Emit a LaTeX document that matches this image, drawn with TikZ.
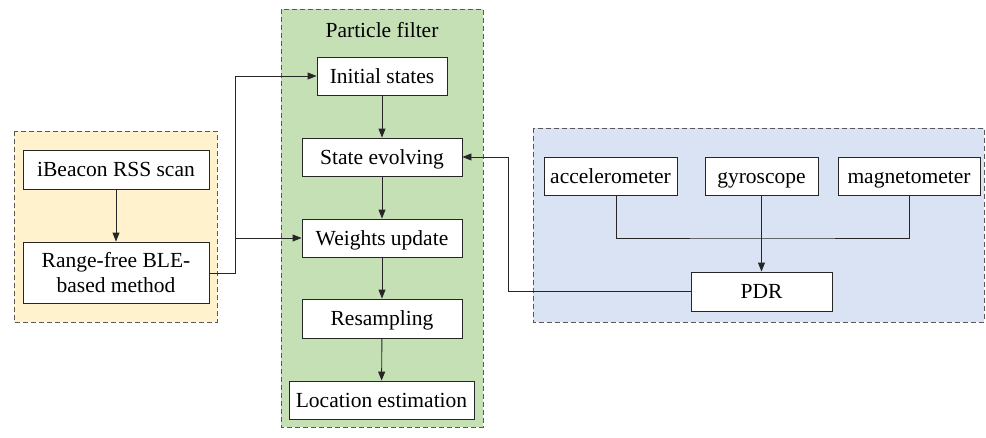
\documentclass[tikz,border=0pt]{standalone}
\usepackage{fontspec}
\setmainfont{Liberation Serif}
\usetikzlibrary{arrows.meta}
\definecolor{ylw}{HTML}{FFF2CC}
\definecolor{grn}{HTML}{C5E0B4}
\definecolor{blu}{HTML}{DAE3F3}
\definecolor{dgray}{HTML}{595959}
\begin{document}
\begin{tikzpicture}[x=1pt,y=-1pt,
  group/.style={draw=dgray,dashed,line width=0.8pt,dash pattern=on 5pt off 3pt},
  box/.style={draw=black!85,fill=white,line width=0.9pt,inner sep=0pt,font=\fontsize{21.5}{25.5}\selectfont,align=center,text height=14.2pt,text depth=0pt},
  box2/.style={box,text height=,text depth=},
  conn/.style={line width=0.9pt,draw=black!85},
  arr/.style={conn,-{Triangle[length=9pt,width=7pt]}}]
\useasboundingbox (0,0) rectangle (986,437);
% groups
\fill[ylw] (14,131) rectangle (217,322);
\draw[group] (14,131) rectangle (217,322);
\fill[grn] (281,9) rectangle (483,427);
\draw[group] (281,9) rectangle (483,427);
\fill[blu] (533,128) rectangle (984,322);
\draw[group] (533,128) rectangle (984,322);
\node[font=\fontsize{21.5}{24}\selectfont,text height=14.2pt,text depth=0pt,inner sep=0pt] (title) at (382,30) {Particle filter};
% left
\node[box,minimum width=186pt,minimum height=39pt] (scan) at (116,169.5) {iBeacon RSS scan};
\node[box2,minimum width=186pt,minimum height=61pt] (rf) at (116,272.5) {Range-free BLE-\\based method};
% particle filter
\node[box,minimum width=130pt,minimum height=38pt] (init) at (382,76) {Initial states};
\node[box,minimum width=160pt,minimum height=38pt] (evo) at (382,157) {State evolving};
\node[box,minimum width=160pt,minimum height=38pt] (wu) at (382,238) {Weights update};
\node[box,minimum width=160pt,minimum height=39pt] (res) at (382,318.5) {Resampling};
\node[box,minimum width=185pt,minimum height=38pt] (loc) at (381.5,400) {Location estimation};
% right
\node[box,minimum width=133pt,minimum height=38pt] (acc) at (610.5,176) {accelerometer};
\node[box,minimum width=113pt,minimum height=38pt] (gyr) at (761.5,176) {gyroscope};
\node[box,minimum width=142pt,minimum height=38pt] (mag) at (909,176) {magnetometer};
\node[box,minimum width=141pt,minimum height=39pt] (pdr) at (761.5,291.5) {PDR};
\coordinate (j1) at (235.5,273);
\coordinate (bus) at (762,238);
% connectors
\draw[arr] (scan) -- (rf);
\draw[arr] (init) -- (evo);
\draw[arr] (evo) -- (wu);
\draw[arr] (wu) -- (res);
\draw[arr] (res) -- (loc);
\draw[conn] (rf.east |- j1) -- (j1);
\draw[arr] (j1) |- (init.west);
\draw[arr] (j1 |- wu.west) -- (wu.west);
\draw[conn] (acc.south -| 616,0) |- (bus) -| (mag.south -| 909,0);
\draw[arr] (gyr.south) -- (pdr.north);
\draw[arr] (pdr.west) -| (508,157) -- (evo.east);
\end{tikzpicture}
\end{document}
